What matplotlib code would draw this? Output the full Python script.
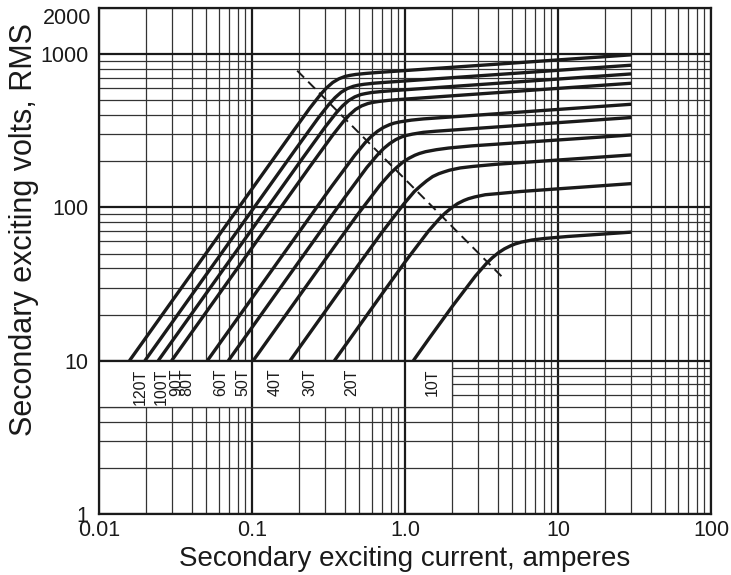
import matplotlib.pyplot as plt
from matplotlib.ticker import LogLocator, NullFormatter
from matplotlib.patches import Rectangle

plt.rcParams['font.family'] = ['Liberation Sans', 'DejaVu Sans']

# Excitation curves (current in A, voltage in V RMS)
amps_120t = [0.0157, 0.1677, 0.2368, 0.2782, 0.3051, 0.3344, 0.3667, 0.4021, 0.4309, 0.4725, 0.5551, 0.6674, 30]
volts_120t = [10, 275, 444, 545, 603, 653, 690, 715, 726, 737, 749, 760, 990]

amps_100t = [0.0198, 0.1904, 0.2688, 0.3158, 0.3463, 0.3797, 0.4164, 0.4565, 0.4892, 0.5364, 0.6303, 0.7577, 30]
volts_100t = [10, 238, 383, 470, 520, 564, 596, 617, 627, 636, 647, 656, 847]

amps_90t = [0.0242, 0.2130, 0.3008, 0.3534, 0.3875, 0.4249, 0.4659, 0.5108, 0.5474, 0.6002, 0.7051, 0.8478, 30]
volts_90t = [10, 210, 338, 415, 459, 498, 526, 545, 553, 562, 571, 579, 743]

amps_80t = [0.0296, 0.2366, 0.3342, 0.3926, 0.4305, 0.4721, 0.5176, 0.5675, 0.6081, 0.6668, 0.7834, 0.9419, 30]
volts_80t = [10, 184, 296, 363, 402, 436, 460, 476, 484, 491, 500, 507, 646]

amps_60t = [0.0507, 0.3290, 0.4649, 0.5462, 0.5988, 0.6566, 0.7198, 0.7893, 0.8459, 0.9275, 1.090, 1.310, 30]
volts_60t = [10, 137, 218, 265, 291, 314, 333, 347, 355, 362, 371, 378, 471]

amps_50t = [0.0695, 0.3953, 0.5582, 0.6558, 0.7190, 0.7884, 0.8646, 0.9480, 1.016, 1.114, 1.309, 1.573, 30]
volts_50t = [10, 114, 182, 220, 242, 261, 277, 289, 295, 301, 309, 314, 386]

amps_40t = [0.101, 0.3401, 0.4806, 0.6787, 0.7973, 0.8744, 0.9587, 1.051, 1.152, 1.235, 1.354, 1.591, 1.913, 2.702, 30]
volts_40t = [10, 54.8, 88.4, 139, 167, 182, 197, 209, 219, 225, 231, 238, 244, 252, 297]

amps_30t = [0.176, 0.4875, 0.6885, 0.9725, 1.143, 1.253, 1.374, 1.506, 1.652, 1.770, 1.941, 2.280, 2.742, 3.872, 30]
volts_30t = [10, 41.6, 67.0, 105, 127, 138, 149, 159, 166, 170, 175, 181, 185, 191, 220]

amps_20t = [0.343, 0.7105, 1.0035, 1.417, 1.665, 1.826, 2.002, 2.195, 2.407, 2.579, 2.828, 3.323, 3.995, 5.643, 30]
volts_20t = [10, 27.7, 44.7, 70.3, 84.4, 92.3, 99.5, 106, 111, 114, 117, 121, 123, 127, 143]

amps_10t = [1.125, 1.436, 2.028, 2.865, 3.366, 3.690, 4.046, 4.437, 4.865, 5.213, 5.716, 6.716, 8.074, 11.41, 30]
volts_10t = [10, 14.1, 22.7, 35.7, 42.9, 46.9, 50.6, 53.7, 56.2, 57.8, 59.4, 61.3, 62.7, 64.6, 69]

# knee-point line (dashed)
knee_amps = [0.196, 4.5]
knee_volts = [780, 33.5]

# tap labels and where they sit along the current axis
tap_labels = ['120T', '100T', '90T', '80T', '60T', '50T', '40T', '30T', '20T', '10T']
tap_label_x = [0.0184, 0.0252, 0.0321, 0.0373, 0.0622, 0.0867, 0.140, 0.238, 0.447, 1.49]

x_ticks = [0.01, 0.1, 1, 10, 100]
x_tick_labels = ['0.01', '0.1', '1.0', '10', '100']
y_ticks = [1, 10, 100, 1000]
y_tick_labels = ['1', '10', '100', '1000']

curves = [
    (amps_120t, volts_120t), (amps_100t, volts_100t), (amps_90t, volts_90t),
    (amps_80t, volts_80t), (amps_60t, volts_60t), (amps_50t, volts_50t),
    (amps_40t, volts_40t), (amps_30t, volts_30t), (amps_20t, volts_20t),
    (amps_10t, volts_10t),
]

ink = '#1a1a1a'

fig = plt.figure(figsize=(7.31, 5.75), dpi=100)
ax = fig.add_axes([0.1361, 0.1061, 0.8372, 0.8800])

ax.set_xscale('log')
ax.set_yscale('log')
ax.set_xlim(0.01, 100)
ax.set_ylim(1, 2000)

ax.set_xticks(x_ticks, x_tick_labels)
ax.set_yticks(y_ticks, y_tick_labels)
ax.xaxis.set_minor_locator(LogLocator(base=10, subs=range(2, 10), numticks=20))
ax.yaxis.set_minor_locator(LogLocator(base=10, subs=range(2, 10), numticks=20))
ax.xaxis.set_minor_formatter(NullFormatter())
ax.yaxis.set_minor_formatter(NullFormatter())
ax.tick_params(which='both', length=0)
ax.tick_params(axis='x', labelsize=15.5, pad=4, colors=ink)
ax.tick_params(axis='y', labelsize=15.5, pad=8, colors=ink)

ax.grid(which='major', color=ink, linewidth=1.6, zorder=0)
ax.grid(which='minor', color='#333333', linewidth=0.9, zorder=0)
ax.set_axisbelow(True)

for side in ax.spines.values():
    side.set_linewidth(1.6)
    side.set_color(ink)
    side.set_zorder(6)

# white label strip under the 10 V line
ax.add_patch(Rectangle((0.01, 5), 2 - 0.01, 5, facecolor='white', edgecolor='none', zorder=1))
ax.vlines([0.1, 1], 5, 10, color=ink, linewidth=1.6, zorder=1.5)
ax.vlines([2], 5, 10, color='#333333', linewidth=0.9, zorder=1.5)
ax.hlines([5], 0.01, 2, color='#333333', linewidth=0.9, zorder=1.5)
ax.hlines([10], 0.01, 2, color=ink, linewidth=1.6, zorder=1.5)

for amps, volts in curves:
    ax.plot(amps, volts, color=ink, linewidth=2.4, solid_joinstyle='round',
            solid_capstyle='butt', zorder=3)

ax.plot(knee_amps, knee_volts, color=ink, linewidth=1.4, dashes=(5, 3), zorder=2.5)

for lab, xpos in zip(tap_labels, tap_label_x):
    ax.text(xpos, 8.9, lab, rotation=90, ha='center', va='top', fontsize=11.5,
            color=ink, zorder=4)

# the 2000 label sits just under the top edge
ax.text(-0.0135, 2000, '2000', transform=ax.get_yaxis_transform(), ha='right', va='top',
        fontsize=15.5, color=ink)

fig.text(0.554, 0.0278, 'Secondary exciting current, amperes', ha='center', va='center',
         fontsize=20, color=ink)
fig.text(0.0328, 0.6017, 'Secondary exciting volts, RMS', rotation=90, ha='center',
         va='center', fontsize=22, color=ink)

fig.savefig('out.png', dpi=100)
